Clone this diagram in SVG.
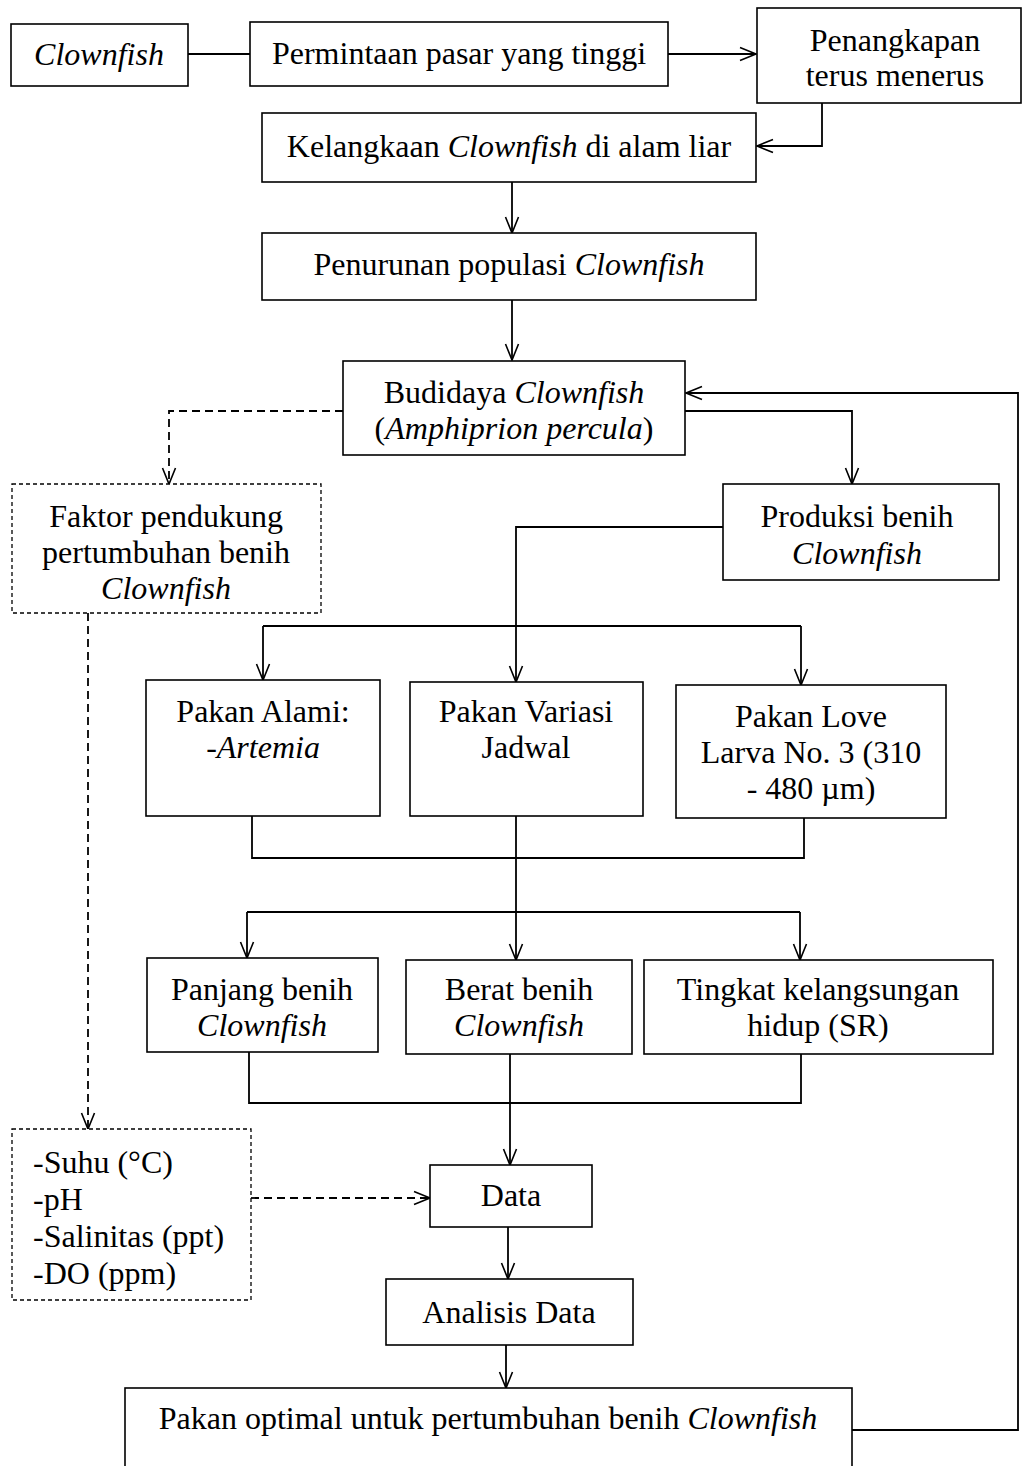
<svg xmlns="http://www.w3.org/2000/svg" width="1022" height="1466" viewBox="0 0 1022 1466">
<style>
.b{fill:#fff;stroke:#000;stroke-width:1.6}
.d{fill:#fff;stroke:#000;stroke-width:1.3;stroke-dasharray:4 3}
.c{fill:none;stroke:#000;stroke-width:1.8}
.cd{fill:none;stroke:#000;stroke-width:1.8;stroke-dasharray:8 5}
text{font-family:"Liberation Serif","Times New Roman",serif;font-size:32px;fill:#000}
.m{text-anchor:middle}
.i{font-style:italic}
</style>
<defs>
<marker id="a" markerUnits="userSpaceOnUse" markerWidth="20" markerHeight="20" refX="17" refY="8" orient="auto">
<path d="M1,1.5 L17,8 L1,14.5" fill="none" stroke="#000" stroke-width="1.6"/>
</marker>
</defs>
<rect width="1022" height="1466" fill="#fff"/>
<g id="connectors">
<path class="c" d="M188,54 H250"/>
<path class="c" d="M668,54 H756" marker-end="url(#a)"/>
<path class="c" d="M822,103 V146 H757" marker-end="url(#a)"/>
<path class="c" d="M512,182 V233" marker-end="url(#a)"/>
<path class="c" d="M512,300 V360" marker-end="url(#a)"/>
<path class="c" d="M852,1430 H1018 V393 H686" marker-end="url(#a)"/>
<path class="c" d="M685,411 H852 V484" marker-end="url(#a)"/>
<path class="cd" d="M343,411 H169 V484" marker-end="url(#a)"/>
<path class="c" d="M723,527 H516 V626"/>
<path class="c" d="M263,626 H801"/>
<path class="c" d="M263,626 V680" marker-end="url(#a)"/>
<path class="c" d="M516,626 V682" marker-end="url(#a)"/>
<path class="c" d="M801,626 V685" marker-end="url(#a)"/>
<path class="c" d="M252,816 V858 H804 V818"/>
<path class="c" d="M516,816 V912"/>
<path class="c" d="M247,912 H800"/>
<path class="c" d="M247,912 V958" marker-end="url(#a)"/>
<path class="c" d="M516,912 V960" marker-end="url(#a)"/>
<path class="c" d="M800,912 V960" marker-end="url(#a)"/>
<path class="c" d="M249,1052 V1103 H801 V1054"/>
<path class="c" d="M510,1054 V1165" marker-end="url(#a)"/>
<path class="cd" d="M88,613 V1129" marker-end="url(#a)"/>
<path class="cd" d="M251,1198 H430" marker-end="url(#a)"/>
<path class="c" d="M508,1227 V1279" marker-end="url(#a)"/>
<path class="c" d="M506,1345 V1388" marker-end="url(#a)"/>
</g>
<g id="n1"><rect class="b" x="11" y="24" width="177" height="62"/><text class="m i" x="99" y="65">Clownfish</text></g>
<g id="n2"><rect class="b" x="250" y="22" width="418" height="64"/><text class="m" x="459" y="64">Permintaan pasar yang tinggi</text></g>
<g id="n3"><rect class="b" x="757" y="8" width="264" height="95"/><text class="m" x="895" y="51">Penangkapan</text><text class="m" x="895" y="86">terus menerus</text></g>
<g id="n4"><rect class="b" x="262" y="113" width="494" height="69"/><text class="m" x="509" y="157">Kelangkaan <tspan class="i">Clownfish</tspan> di alam liar</text></g>
<g id="n5"><rect class="b" x="262" y="233" width="494" height="67"/><text class="m" x="509" y="275">Penurunan populasi <tspan class="i">Clownfish</tspan></text></g>
<g id="n6"><rect class="b" x="343" y="361" width="342" height="94"/><text class="m" x="514" y="403">Budidaya <tspan class="i">Clownfish</tspan></text><text class="m" x="514" y="439">(<tspan class="i">Amphiprion percula</tspan>)</text></g>
<g id="n7"><rect class="b" x="723" y="484" width="276" height="96"/><text class="m" x="857" y="527">Produksi benih</text><text class="m i" x="857" y="564">Clownfish</text></g>
<g id="n8"><rect class="d" x="12" y="484" width="309" height="129"/><text class="m" x="166" y="527">Faktor pendukung</text><text class="m" x="166" y="563">pertumbuhan benih</text><text class="m i" x="166" y="599">Clownfish</text></g>
<g id="n9"><rect class="b" x="146" y="680" width="234" height="136"/><text class="m" x="263" y="722">Pakan Alami:</text><text class="m" x="263" y="758">-<tspan class="i">Artemia</tspan></text></g>
<g id="n10"><rect class="b" x="410" y="682" width="233" height="134"/><text class="m" x="526" y="722">Pakan Variasi</text><text class="m" x="526" y="758">Jadwal</text></g>
<g id="n11"><rect class="b" x="676" y="685" width="270" height="133"/><text class="m" x="811" y="727">Pakan Love</text><text class="m" x="811" y="763">Larva No. 3 (310</text><text class="m" x="811" y="799">- 480 µm)</text></g>
<g id="n12"><rect class="b" x="147" y="958" width="231" height="94"/><text class="m" x="262" y="1000">Panjang benih</text><text class="m i" x="262" y="1036">Clownfish</text></g>
<g id="n13"><rect class="b" x="406" y="960" width="226" height="94"/><text class="m" x="519" y="1000">Berat benih</text><text class="m i" x="519" y="1036">Clownfish</text></g>
<g id="n14"><rect class="b" x="644" y="960" width="349" height="94"/><text class="m" x="818" y="1000">Tingkat kelangsungan</text><text class="m" x="818" y="1036">hidup (SR)</text></g>
<g id="n15"><rect class="d" x="12" y="1129" width="239" height="171"/><text x="33" y="1173">-Suhu (°C)</text><text x="33" y="1210">-pH</text><text x="33" y="1247">-Salinitas (ppt)</text><text x="33" y="1284">-DO (ppm)</text></g>
<g id="n16"><rect class="b" x="430" y="1165" width="162" height="62"/><text class="m" x="511" y="1206">Data</text></g>
<g id="n17"><rect class="b" x="386" y="1279" width="247" height="66"/><text class="m" x="509" y="1323">Analisis Data</text></g>
<g id="n18"><rect class="b" x="125" y="1388" width="727" height="90"/><text class="m" x="488" y="1429">Pakan optimal untuk pertumbuhan benih <tspan class="i">Clownfish</tspan></text></g>
</svg>
